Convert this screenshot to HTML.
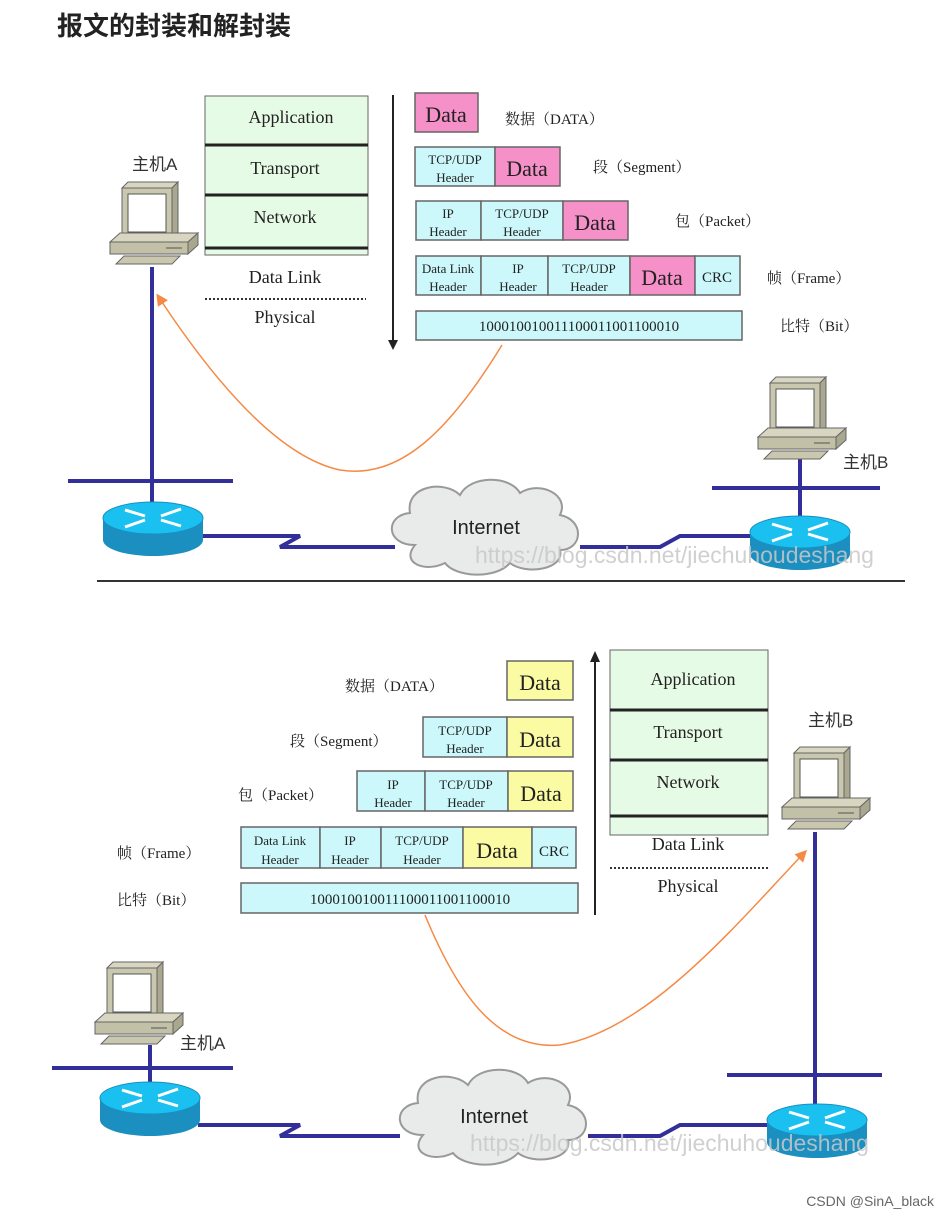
<!DOCTYPE html>
<html><head><meta charset="utf-8"><style>
html,body{margin:0;padding:0;background:#fff;width:949px;height:1217px;overflow:hidden}
svg{display:block}
.s{font-family:"Liberation Serif","Noto Serif CJK SC",serif;fill:#222}
.a{font-family:"Liberation Sans","Noto Sans CJK SC",sans-serif}
</style></head><body>
<svg width="949" height="1217" viewBox="0 0 949 1217" xmlns="http://www.w3.org/2000/svg">
<defs>
<g id="pc">
 <polygon points="12,8 18,2 68,2 62,8" fill="#d8d6c0" stroke="#666" stroke-width="1"/>
 <polygon points="62,8 68,2 68,52 62,58" fill="#a9a790" stroke="#666"/>
 <rect x="12" y="8" width="50" height="50" fill="#c9c7ae" stroke="#666"/>
 <rect x="18" y="14" width="38" height="38" fill="#fff" stroke="#555"/>
 <polygon points="0,62 10,53 88,53 78,62" fill="#d8d6c0" stroke="#666"/>
 <rect x="0" y="62" width="78" height="12" fill="#c2c0a6" stroke="#666"/>
 <polygon points="78,62 88,53 88,65 78,74" fill="#a9a790" stroke="#666"/>
 <line x1="56" y1="68" x2="72" y2="68" stroke="#555"/>
 <polygon points="6,84 14,76 70,76 62,84" fill="#c9c7ae" stroke="#666"/>
</g>
<g id="rt">
 <path d="M-50,0 v22 a50,16 0 0 0 100,0 v-22z" fill="#1a8fc0"/>
 <ellipse cx="0" cy="0" rx="50" ry="16" fill="#19c0f0" stroke="#1a8fc0"/>
 <g fill="#fff" stroke="#fff" stroke-width="3">
  <line x1="-28" y1="-8" x2="-8" y2="-2"/><line x1="28" y1="8" x2="8" y2="2"/>
  <line x1="8" y1="-2" x2="28" y2="-9"/><line x1="-8" y1="2" x2="-28" y2="9"/>
 </g>
</g>
<g id="cl">
 <path d="M-70,20 C-100,20 -100,-10 -75,-12 C-80,-40 -40,-45 -25,-30 C-15,-50 25,-50 35,-32 C55,-45 85,-30 75,-10 C100,-5 98,25 75,25 C80,45 40,50 25,38 C10,55 -30,52 -40,38 C-60,48 -85,38 -70,20z" fill="#e9eaea" stroke="#999" stroke-width="2"/>
</g>
<marker id="ar" markerWidth="8" markerHeight="8" refX="6" refY="4" orient="auto"><path d="M0,0 L8,4 L0,8z" fill="#f58a45"/></marker>
</defs>
<text x="57" y="35" class="a" font-size="26" font-weight="bold" fill="#222">报文的封装和解封装</text>

<!-- TOP -->
<rect x="205" y="96" width="163" height="159" fill="#e6fbe6" stroke="#666"/>
<g stroke="#222" stroke-width="3"><line x1="205" y1="145" x2="368" y2="145"/><line x1="205" y1="195" x2="368" y2="195"/><line x1="205" y1="248" x2="368" y2="248"/></g>
<g class="s" font-size="18" text-anchor="middle">
<text x="291" y="123">Application</text><text x="285" y="174">Transport</text><text x="285" y="223">Network</text>
<text x="285" y="283">Data Link</text><text x="285" y="323">Physical</text></g>
<line x1="205" y1="299" x2="366" y2="299" stroke="#333" stroke-width="2" stroke-dasharray="2,2"/>
<line x1="393" y1="95" x2="393" y2="342" stroke="#222" stroke-width="2"/><path d="M388,340 L393,350 L398,340z" fill="#222"/>

<g stroke="#666" stroke-width="1.5">
<rect x="415" y="93" width="63" height="39" fill="#f590c9"/>
<rect x="415" y="147" width="80" height="39" fill="#ccf8fb"/><rect x="495" y="147" width="65" height="39" fill="#f590c9"/>
<rect x="416" y="201" width="65" height="39" fill="#ccf8fb"/><rect x="481" y="201" width="82" height="39" fill="#ccf8fb"/><rect x="563" y="201" width="65" height="39" fill="#f590c9"/>
<rect x="416" y="256" width="65" height="39" fill="#ccf8fb"/><rect x="481" y="256" width="67" height="39" fill="#ccf8fb"/><rect x="548" y="256" width="82" height="39" fill="#ccf8fb"/><rect x="630" y="256" width="65" height="39" fill="#f590c9"/><rect x="695" y="256" width="45" height="39" fill="#ccf8fb"/>
<rect x="416" y="311" width="326" height="29" fill="#ccf8fb"/>
</g>
<g class="s" text-anchor="middle">
<text x="446" y="122" font-size="22">Data</text>
<text x="455" y="164" font-size="13">TCP/UDP</text><text x="455" y="182" font-size="13">Header</text><text x="527" y="176" font-size="22">Data</text>
<text x="448" y="218" font-size="13">IP</text><text x="448" y="236" font-size="13">Header</text><text x="522" y="218" font-size="13">TCP/UDP</text><text x="522" y="236" font-size="13">Header</text><text x="595" y="230" font-size="22">Data</text>
<text x="448" y="273" font-size="13">Data Link</text><text x="448" y="291" font-size="13">Header</text><text x="518" y="273" font-size="13">IP</text><text x="518" y="291" font-size="13">Header</text><text x="589" y="273" font-size="13">TCP/UDP</text><text x="589" y="291" font-size="13">Header</text><text x="662" y="285" font-size="22">Data</text><text x="717" y="282" font-size="15">CRC</text>
<text x="579" y="331" font-size="15">10001001001110001100110001​0</text>
</g>
<g class="s" font-size="15">
<text x="505" y="124">数据（DATA）</text><text x="593" y="172">段（Segment）</text><text x="675" y="226">包（Packet）</text><text x="767" y="283">帧（Frame）</text><text x="780" y="331">比特（Bit）</text></g>

<text x="132" y="170" class="a" font-size="17" fill="#333">主机A</text>
<use href="#pc" x="110" y="180"/>
<g stroke="#332f9a" stroke-width="4" fill="none">
<line x1="152" y1="267" x2="152" y2="505"/><line x1="68" y1="481" x2="233" y2="481"/>
<path d="M200,536 H300 L280,547 H395"/>
<path d="M580,547 H660 L680,536 H760"/>
<line x1="800" y1="458" x2="800" y2="525"/><line x1="712" y1="488" x2="880" y2="488"/>
</g>
<use href="#rt" x="153" y="518"/>
<use href="#cl" x="485" y="525"/>
<text x="486" y="534" text-anchor="middle" class="a" font-size="20" fill="#222">Internet</text>
<use href="#rt" x="800" y="532"/>
<use href="#pc" x="758" y="375"/>
<text x="843" y="468" class="a" font-size="17" fill="#333">主机B</text>
<line x1="97" y1="581" x2="905" y2="581" stroke="#333" stroke-width="2"/>
<path d="M502,345 C450,430 400,480 340,470 C270,455 200,360 158,296" stroke="#f58a45" stroke-width="1.5" fill="none" marker-end="url(#ar)"/>
<text x="475" y="563" class="a" font-size="23" fill="#c8c8c8" fill-opacity="0.85">https://blog.csdn.net/jiechuhoudeshang</text>

<!-- BOTTOM -->
<g stroke="#666" stroke-width="1.5">
<rect x="507" y="661" width="66" height="39" fill="#fbfba4"/>
<rect x="423" y="717" width="84" height="40" fill="#ccf8fb"/><rect x="507" y="717" width="66" height="40" fill="#fbfba4"/>
<rect x="357" y="771" width="68" height="40" fill="#ccf8fb"/><rect x="425" y="771" width="83" height="40" fill="#ccf8fb"/><rect x="508" y="771" width="65" height="40" fill="#fbfba4"/>
<rect x="241" y="827" width="79" height="41" fill="#ccf8fb"/><rect x="320" y="827" width="61" height="41" fill="#ccf8fb"/><rect x="381" y="827" width="82" height="41" fill="#ccf8fb"/><rect x="463" y="827" width="69" height="41" fill="#fbfba4"/><rect x="532" y="827" width="44" height="41" fill="#ccf8fb"/>
<rect x="241" y="883" width="337" height="30" fill="#ccf8fb"/>
</g>
<g class="s" text-anchor="middle">
<text x="540" y="690" font-size="22">Data</text>
<text x="465" y="735" font-size="13">TCP/UDP</text><text x="465" y="753" font-size="13">Header</text><text x="540" y="747" font-size="22">Data</text>
<text x="393" y="789" font-size="13">IP</text><text x="393" y="807" font-size="13">Header</text><text x="466" y="789" font-size="13">TCP/UDP</text><text x="466" y="807" font-size="13">Header</text><text x="541" y="801" font-size="22">Data</text>
<text x="280" y="845" font-size="13">Data Link</text><text x="280" y="864" font-size="13">Header</text><text x="350" y="845" font-size="13">IP</text><text x="350" y="864" font-size="13">Header</text><text x="422" y="845" font-size="13">TCP/UDP</text><text x="422" y="864" font-size="13">Header</text><text x="497" y="858" font-size="22">Data</text><text x="554" y="856" font-size="15">CRC</text>
<text x="410" y="904" font-size="15">10001001001110001100110001​0</text>
</g>
<g class="s" font-size="15">
<text x="345" y="691">数据（DATA）</text><text x="290" y="746">段（Segment）</text><text x="238" y="800">包（Packet）</text><text x="117" y="858">帧（Frame）</text><text x="117" y="905">比特（Bit）</text></g>
<line x1="595" y1="915" x2="595" y2="660" stroke="#222" stroke-width="2"/><path d="M590,662 L595,651 L600,662z" fill="#222"/>
<rect x="610" y="650" width="158" height="185" fill="#e6fbe6" stroke="#666"/>
<g stroke="#222" stroke-width="3"><line x1="610" y1="710" x2="768" y2="710"/><line x1="610" y1="760" x2="768" y2="760"/><line x1="610" y1="816" x2="768" y2="816"/></g>
<g class="s" font-size="18" text-anchor="middle">
<text x="693" y="685">Application</text><text x="688" y="738">Transport</text><text x="688" y="788">Network</text>
<text x="688" y="850">Data Link</text><text x="688" y="892">Physical</text></g>
<line x1="610" y1="868" x2="768" y2="868" stroke="#333" stroke-width="2" stroke-dasharray="2,2"/>

<text x="808" y="726" class="a" font-size="17" fill="#333">主机B</text>
<use href="#pc" x="782" y="745"/>
<use href="#pc" x="95" y="960"/>
<text x="180" y="1049" class="a" font-size="17" fill="#333">主机A</text>
<g stroke="#332f9a" stroke-width="4" fill="none">
<line x1="815" y1="832" x2="815" y2="1110"/><line x1="727" y1="1075" x2="882" y2="1075"/>
<line x1="150" y1="1045" x2="150" y2="1090"/><line x1="52" y1="1068" x2="233" y2="1068"/>
<path d="M198,1125 H300 L280,1136 H400"/>
<path d="M588,1136 H660 L680,1125 H770"/>
</g>
<use href="#rt" x="150" y="1098"/>
<use href="#cl" x="493" y="1115"/>
<text x="494" y="1123" text-anchor="middle" class="a" font-size="20" fill="#222">Internet</text>
<use href="#rt" x="817" y="1120"/>
<path d="M425,915 C460,1000 500,1050 560,1045 C650,1030 740,920 805,852" stroke="#f58a45" stroke-width="1.5" fill="none" marker-end="url(#ar)"/>
<text x="470" y="1151" class="a" font-size="23" fill="#c8c8c8" fill-opacity="0.85">https://blog.csdn.net/jiechuhoudeshang</text>
<text x="934" y="1206" text-anchor="end" class="a" font-size="14" fill="#666">CSDN @SinA_black</text>
</svg>
</body></html>
